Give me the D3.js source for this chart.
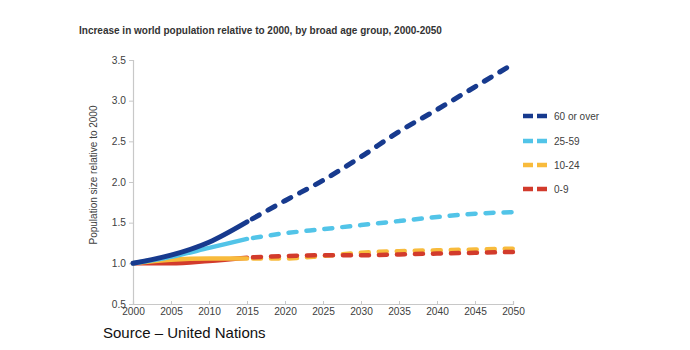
<!DOCTYPE html>
<html><head><meta charset="utf-8">
<script src="https://cdn.jsdelivr.net/npm/d3@7"></script>
<style>
body{margin:0;background:#fff;}
svg{display:block;font-family:"Liberation Sans",Arial,sans-serif;}
</style></head>
<body><svg id="c" width="690" height="350"></svg>
<script>
const years = [2000,2005,2010,2015,2020,2025,2030,2035,2040,2045,2050];
const seriesNames = ["60 or over","25-59","10-24","0-9"];
const age60plus = [1.00,1.10,1.26,1.51,1.77,2.02,2.31,2.62,2.89,3.17,3.45];
const age25_59  = [1.00,1.08,1.19,1.30,1.37,1.42,1.47,1.52,1.57,1.61,1.63];
const age10_24  = [1.00,1.045,1.06,1.06,1.06,1.09,1.13,1.15,1.16,1.17,1.18];
const age0_9    = [1.00,1.00,1.03,1.07,1.09,1.10,1.10,1.11,1.12,1.13,1.14];
const projectionStart = 2015;
const yTicks = [0.5,1.0,1.5,2.0,2.5,3.0,3.5];
const xTicks = [2000,2005,2010,2015,2020,2025,2030,2035,2040,2045,2050];
const colors = {"60 or over":"#173a8e","25-59":"#52c4e8","10-24":"#f8bb3c","0-9":"#d23b2c"};
const widths = {"60 or over":5,"25-59":4.5,"10-24":4.5,"0-9":4.5};
const valuesByName = {"60 or over":age60plus,"25-59":age25_59,"10-24":age10_24,"0-9":age0_9};

const svg = d3.select("#c");
const x = d3.scaleLinear().domain([2000,2050]).range([133,513]);
const y = d3.scaleLinear().domain([0.5,3.5]).range([304,60]);

// title
svg.append("text").attr("x",79).attr("y",34)
  .attr("font-size",10).attr("font-weight","bold").attr("fill","#333")
  .text("Increase in world population relative to 2000, by broad age group, 2000-2050");

// axes
const axisColor = "#c8c8c8";
const gy = svg.append("g").attr("transform","translate(133,0)")
  .call(d3.axisLeft(y).tickValues(yTicks).tickFormat(d3.format(".1f")).tickSize(4).tickPadding(3));
const gx = svg.append("g").attr("transform","translate(0,304)")
  .call(d3.axisBottom(x).tickValues(xTicks).tickFormat(d3.format("d")).tickSize(-3).tickPadding(5));
[gx,gy].forEach(g=>{
  g.select(".domain").attr("stroke",axisColor).attr("stroke-width",1.2);
  g.selectAll(".tick line").attr("stroke",axisColor);
  g.selectAll(".tick text").attr("fill","#404040").attr("font-size",10.2)
   .attr("font-family","'Liberation Sans',Arial,sans-serif");
});
gx.selectAll(".tick text").attr("dy","0.6em");
gy.selectAll(".tick text").attr("dy","0.3em");

// y axis title
svg.append("text").attr("transform","translate(97,175) rotate(-90)")
  .attr("text-anchor","middle").attr("font-size",10).attr("fill","#404040")
  .text("Population size relative to 2000");

const line = d3.line().x(d=>x(d.year)).y(d=>y(d.v)).curve(d3.curveMonotoneX);
const solidOrder = ["0-9","10-24","25-59","60 or over"];
const dashOrder = ["10-24","0-9","25-59","60 or over"];
const ptsOf = name => years.map((yr,i)=>({year:yr,v:valuesByName[name][i]}));
dashOrder.forEach(name=>{
  const dashed = ptsOf(name).filter(p=>p.year>=projectionStart);
  svg.append("path").attr("d",line(dashed)).attr("fill","none")
    .attr("stroke",colors[name]).attr("stroke-width",widths[name])
    .attr("stroke-linecap","round").attr("stroke-dasharray","8,10").attr("stroke-dashoffset",-6);
});
solidOrder.forEach(name=>{
  const solid = ptsOf(name).filter(p=>p.year<=projectionStart);
  svg.append("path").attr("d",line(solid)).attr("fill","none")
    .attr("stroke",colors[name]).attr("stroke-width",widths[name]).attr("stroke-linecap","round");
});

// legend
const legY = [116,141,165,189];
seriesNames.forEach((name,i)=>{
  const g = svg.append("g").attr("transform",`translate(0,${legY[i]})`);
  g.append("line").attr("x1",523).attr("x2",547).attr("y1",0).attr("y2",0)
    .attr("stroke",colors[name]).attr("stroke-width",4.5)
    .attr("stroke-dasharray","10,4");
  g.append("text").attr("x",554).attr("y",3.5).attr("font-size",10).attr("fill","#404040").text(name);
});

// source
svg.append("text").attr("x",103).attr("y",338).attr("font-size",15).attr("fill","#111")
  .text("Source – United Nations");
</script></body></html>
